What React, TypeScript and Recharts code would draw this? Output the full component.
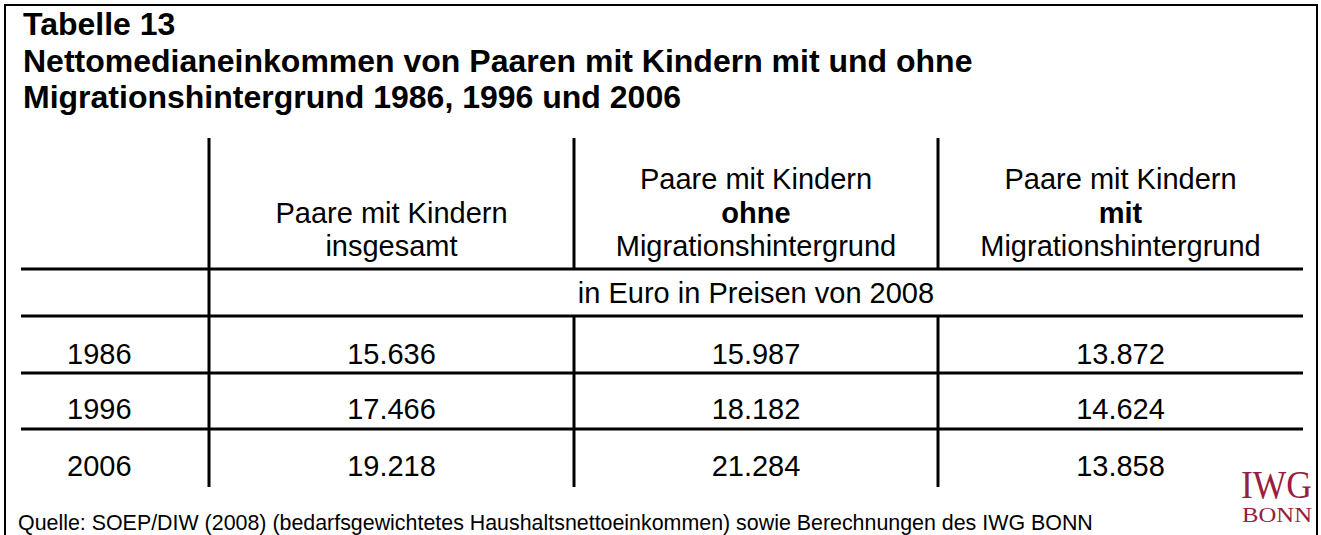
import { ScatterChart, Scatter, XAxis, YAxis, ReferenceLine } from "recharts";

const titleLines = [
  "Tabelle 13",
  "Nettomedianeinkommen von Paaren mit Kindern mit und ohne",
  "Migrationshintergrund 1986, 1996 und 2006",
];
const columnHeaders = [
  ["Paare mit Kindern", "insgesamt"],
  ["Paare mit Kindern", "ohne", "Migrationshintergrund"],
  ["Paare mit Kindern", "mit", "Migrationshintergrund"],
];
const unitLabel = "in Euro in Preisen von 2008";
const years = ["1986", "1996", "2006"];
const insgesamt = [15636, 17466, 19218];
const ohneMigration = [15987, 18182, 21284];
const mitMigration = [13872, 14624, 13858];
const sourceNote =
  "Quelle: SOEP/DIW (2008) (bedarfsgewichtetes Haushaltsnettoeinkommen) sowie Berechnungen des IWG BONN";

const W = 1321;
const H = 535;
const FONT = "Arial, 'Liberation Sans', sans-serif";

// table grid (pixels)
const colEdges = [21, 209, 574, 938, 1303];
const tableTop = 138;
const tableBottom = 487;
const hLines = [269, 316, 373, 429];
const headerBaselines = [189, 223, 256];
const unitBaseline = 303;
const rowBaselines = [364, 419, 476];
const yearX = 67;
const titleBaselines = [35, 72, 108];

const fmt = (v: number) =>
  Math.floor(v / 1000) + "." + String(v % 1000).padStart(3, "0");
const colCenter = (i: number) => (colEdges[i] + colEdges[i + 1]) / 2;

type Cell = { x: number; y: number; text: string; bold?: boolean; anchor?: string };

const cells: Cell[] = [];
columnHeaders.forEach((lines, i) => {
  const start = headerBaselines.length - lines.length;
  lines.forEach((t, j) =>
    cells.push({
      x: colCenter(i + 1),
      y: headerBaselines[start + j],
      text: t,
      bold: lines.length === 3 && j === 1,
    })
  );
});
cells.push({ x: (colEdges[1] + colEdges[4]) / 2, y: unitBaseline, text: unitLabel });
years.forEach((yr, r) =>
  cells.push({ x: yearX, y: rowBaselines[r], text: yr, anchor: "start" })
);
[insgesamt, ohneMigration, mitMigration].forEach((series, c) =>
  series.forEach((v, r) =>
    cells.push({ x: colCenter(c + 1), y: rowBaselines[r], text: fmt(v) })
  )
);

// vertical rules: first one runs through, the others skip the unit row
const vSegments = [
  [colEdges[1], tableTop, tableBottom],
  [colEdges[2], tableTop, hLines[0]],
  [colEdges[2], hLines[1], tableBottom],
  [colEdges[3], tableTop, hLines[0]],
  [colEdges[3], hLines[1], tableBottom],
];

const CellText = (props: any) => {
  const { cx, cy, payload } = props;
  return (
    <text
      x={cx}
      y={cy}
      textAnchor={payload.anchor ?? "middle"}
      fontFamily={FONT}
      fontSize={29}
      fontWeight={payload.bold ? 700 : 400}
      fill="#000"
    >
      {payload.text}
    </text>
  );
};

export default function App() {
  return (
    <div
      style={{
        position: "absolute",
        left: 0,
        top: 0,
        width: W,
        height: H,
        background: "#fff",
        overflow: "hidden",
      }}
    >
      <ScatterChart width={W} height={H} margin={{ top: 0, right: 0, bottom: 0, left: 0 }}>
        <XAxis type="number" dataKey="x" domain={[0, W]} allowDataOverflow hide />
        <YAxis type="number" dataKey="y" domain={[0, H]} allowDataOverflow reversed hide />
        {vSegments.map(([x, y1, y2]) => (
          <ReferenceLine
            key={"v" + x + "-" + y1}
            segment={[
              { x, y: y1 },
              { x, y: y2 },
            ]}
            stroke="#000"
            strokeWidth={3}
          />
        ))}
        {hLines.map((y) => (
          <ReferenceLine
            key={"h" + y}
            segment={[
              { x: colEdges[0], y },
              { x: colEdges[4], y },
            ]}
            stroke="#000"
            strokeWidth={3}
          />
        ))}
        <Scatter data={cells} shape={CellText} isAnimationActive={false} />
      </ScatterChart>
      <svg
        width={W}
        height={H}
        style={{ position: "absolute", left: 0, top: 0, pointerEvents: "none" }}
      >
        <rect x={5} y={5} width={1312} height={600} fill="none" stroke="#000" strokeWidth={2} />
        {titleLines.map((t, i) => (
          <text
            key={t}
            x={23}
            y={titleBaselines[i]}
            fontFamily={FONT}
            fontSize={32}
            fontWeight={700}
            fill="#000"
          >
            {t}
          </text>
        ))}
        <text x={18} y={530} fontFamily={FONT} fontSize={21.4} fill="#000">
          {sourceNote}
        </text>
        <text
          x={1241}
          y={498}
          fontFamily="'Liberation Serif', 'Times New Roman', serif"
          fontSize={40}
          fill="#981e3f"
          textLength={71}
          lengthAdjust="spacingAndGlyphs"
        >
          IWG
        </text>
        <text
          x={1242}
          y={522}
          fontFamily="'Liberation Serif', 'Times New Roman', serif"
          fontSize={20}
          fill="#981e3f"
          textLength={70}
          lengthAdjust="spacingAndGlyphs"
        >
          BONN
        </text>
      </svg>
    </div>
  );
}
